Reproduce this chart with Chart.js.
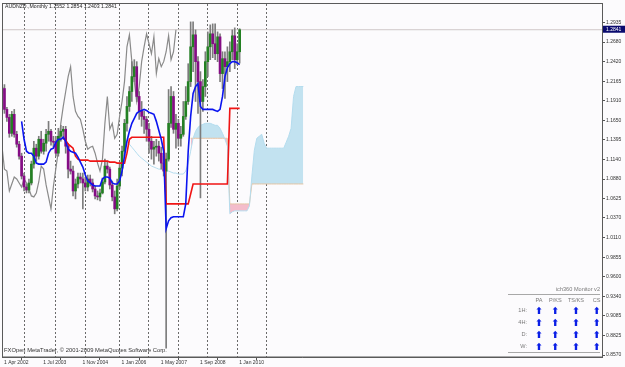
<!DOCTYPE html>
<html><head><meta charset="utf-8">
<script src="https://cdn.jsdelivr.net/npm/chart.js@4.4.1/dist/chart.umd.min.js"></script>
<style>
html,body{margin:0;padding:0;background:#fcfbfd;}
#wrap{position:relative;width:625px;height:367px;overflow:hidden;background:#fcfbfd;}
canvas{position:absolute;left:0;top:0;}
.t{position:absolute;white-space:nowrap;font-family:"Liberation Sans",Arial,sans-serif;}
.hr{position:absolute;height:0;border-top:1px solid #a8a8a8;}
</style></head><body>
<div id="wrap"><canvas id="c" width="625" height="367"></canvas></div>
<script>
// ---------- DATA ----------
const symbol = "AUDNZD.";
const period = "Monthly";
const copyright = "FXOpen MetaTrader, \u00a9 2001-2009 MetaQuotes Software Corp.";

const open = [1.2004,1.2069,1.1795,1.1690,1.1481,1.1730,1.1468,1.1338,1.1181,1.0920,
1.0776,1.0737,1.0829,1.1077,1.1286,1.1181,1.1403,1.1246,1.1351,1.1468,
1.1508,1.1377,1.1364,1.1220,1.1442,1.1508,1.1534,1.1312,1.1011,1.0985,
1.0724,1.0816,1.0907,1.0881,1.0829,1.0776,1.0881,1.0829,1.0750,1.0659,
1.0646,1.0698,1.0842,1.1051,1.1011,1.0803,1.0646,1.0489,1.0789,1.1024,
1.1246,1.1612,1.1834,1.2030,1.2226,1.2356,1.1965,1.1769,1.1703,1.1664,
1.1534,1.1377,1.1273,1.1299,1.1312,1.1220,1.1090,1.0985,1.1142,1.1612,
1.1965,1.1534,1.1612,1.1416,1.1468,1.1703,1.1899,1.2160,1.2617,1.2774,
1.2422,1.2160,1.1899,1.2095,1.2422,1.2617,1.2787,1.2657,1.2526,1.2748,
1.2265,1.2461,1.2356,1.2422,1.2552,1.2761,1.2448,1.2552];
const high = [1.2160,1.2121,1.1821,1.1730,1.1769,1.1795,1.1508,1.1377,1.1220,1.0959,
1.0816,1.0881,1.1116,1.1377,1.1338,1.1442,1.1508,1.1403,1.1534,1.1638,
1.1534,1.1442,1.1442,1.1547,1.1586,1.1573,1.1573,1.1351,1.1116,1.1051,
1.0881,1.0959,1.0959,1.0959,1.0907,1.0933,1.0933,1.0881,1.0789,1.0724,
1.0750,1.0894,1.1142,1.1116,1.1038,1.0855,1.0724,1.0881,1.1090,1.1312,
1.1664,1.1965,1.2095,1.2422,1.2448,1.2422,1.2030,1.1899,1.1769,1.1703,
1.1612,1.1442,1.1377,1.1403,1.1377,1.1299,1.1181,1.1220,1.2056,1.2095,
1.2030,1.1730,1.1664,1.1573,1.1899,1.2095,1.2395,1.2944,1.2944,1.2839,
1.2487,1.2291,1.2187,1.2552,1.2813,1.2905,1.2918,1.2918,1.2813,1.2787,
1.2552,1.2552,1.2617,1.2683,1.2839,1.2866,1.2657,1.2854];
const low = [1.1952,1.1743,1.1638,1.1429,1.1442,1.1429,1.1299,1.1142,1.0881,1.0724,
1.0698,1.0698,1.0803,1.1024,1.1116,1.1142,1.1220,1.1207,1.1246,1.1377,
1.1325,1.1299,1.1181,1.1181,1.1377,1.1403,1.1220,1.0894,1.0946,1.0659,
1.0620,1.0763,1.0829,1.0489,1.0724,1.0724,1.0789,1.0711,1.0620,1.0607,
1.0594,1.0685,1.0816,1.0959,1.0750,1.0594,1.0424,1.0463,1.0750,1.0920,
1.1181,1.1508,1.1769,1.1899,1.2160,1.1899,1.1664,1.1573,1.1481,1.1377,
1.1220,1.1142,1.1077,1.1181,1.1116,1.1011,1.0920,0.8661,1.1116,1.1560,
1.1481,1.1286,1.1312,1.1312,1.1442,1.1664,1.1860,1.2095,1.2291,1.1899,
1.1743,1.0633,1.1769,1.1965,1.2226,1.2448,1.2474,1.2448,1.2422,1.2160,
1.2069,1.1938,1.2160,1.2291,1.2448,1.2330,1.2382,1.2403];
const close = [1.2082,1.1795,1.1690,1.1481,1.1730,1.1468,1.1338,1.1181,1.0920,1.0776,
1.0737,1.0829,1.1077,1.1286,1.1181,1.1403,1.1246,1.1351,1.1468,1.1508,
1.1377,1.1364,1.1220,1.1442,1.1508,1.1534,1.1312,1.1011,1.0985,1.0724,
1.0816,1.0907,1.0881,1.0829,1.0776,1.0881,1.0829,1.0750,1.0659,1.0646,
1.0698,1.0842,1.1051,1.1011,1.0803,1.0646,1.0489,1.0789,1.1024,1.1246,
1.1612,1.1834,1.2030,1.2226,1.2356,1.1965,1.1769,1.1703,1.1664,1.1534,
1.1377,1.1273,1.1299,1.1312,1.1220,1.1090,1.0985,1.1142,1.1612,1.1965,
1.1534,1.1612,1.1416,1.1468,1.1703,1.1899,1.2160,1.2617,1.2774,1.2422,
1.2160,1.1899,1.2095,1.2422,1.2617,1.2787,1.2657,1.2526,1.2748,1.2265,
1.2461,1.2356,1.2422,1.2552,1.2761,1.2448,1.2552,1.2841];

// Tenkan-sen (blue), one value per bar
const tenkan = [null,null,null,null,null,null,null,null,1.1638,1.1403,
1.1246,1.1220,1.1220,1.1181,1.1090,1.1077,1.1077,1.1077,1.1103,1.1220,
1.1273,1.1286,1.1364,1.1403,1.1403,1.1429,1.1377,1.1273,1.1246,1.1233,
1.1220,1.1168,1.1103,1.1038,1.0933,1.0855,1.0829,1.0803,1.0789,1.0789,
1.0789,1.0881,1.0907,1.0907,1.0894,1.0829,1.0816,1.0816,1.0855,1.0985,
1.1181,1.1377,1.1508,1.1612,1.1677,1.1743,1.1769,1.1782,1.1795,1.1782,
1.1756,1.1743,1.1730,1.1638,1.1521,1.1403,1.1246,1.0228,1.0332,1.0372,
1.0385,1.0385,1.0385,1.0385,1.0385,1.0554,1.1246,1.1703,1.2004,1.2095,
1.2134,1.1834,1.1795,1.1795,1.1795,1.1795,1.1795,1.1782,1.1769,1.1795,
1.1965,1.2226,1.2343,1.2395,1.2422,1.2422,1.2409,1.2382];
// Kijun-sen (red), one value per bar
const kijun = [null,null,null,null,null,null,null,null,null,null,
null,null,null,null,null,null,null,null,null,null,
null,null,null,null,null,1.1416,1.1390,1.1338,1.1312,1.1286,
1.1181,1.1142,1.1129,1.1129,1.1129,1.1129,1.1116,1.1116,1.1116,1.1116,
1.1116,1.1116,1.1116,1.1116,1.1103,1.1103,1.1103,1.1090,1.1090,1.1090,
1.1090,1.1220,1.1403,1.1429,1.1429,1.1429,1.1429,1.1429,1.1429,1.1429,
1.1429,1.1429,1.1429,1.1429,1.1429,1.1429,1.1429,1.0554,1.0554,1.0554,
1.0554,1.0554,1.0554,1.0554,1.0554,1.0554,1.0554,1.0685,1.0816,1.0816,
1.0816,1.0816,1.0816,1.0816,1.0816,1.0816,1.0816,1.0816,1.0816,1.0816,
1.0816,1.0816,1.0816,1.1808,1.1808,1.1808,1.1808,1.1808];
// Senkou span A, plotted from bar spanAStart (already displaced forward)
const spanAStart = 51;
const spanA = [1.1377,1.1338,1.1299,1.1260,1.1220,1.1181,1.1155,1.1129,1.1103,
1.1077,1.1051,1.1038,1.1024,1.1011,1.1011,1.0998,1.0985,1.0985,1.0972,
1.0959,1.0959,1.0946,1.0946,1.0946,1.0985,1.1090,1.1246,1.1416,1.1508,
1.1560,1.1586,1.1599,1.1612,1.1612,1.1612,1.1599,1.1586,1.1586,1.1547,
1.1481,1.1403,1.1312,1.0424,1.0450,1.0463,1.0463,1.0463,1.0463,1.0463,
1.0463,1.0528,1.0920,1.1260,1.1416,1.1442,1.1468,1.1351,1.1286,1.1286,
1.1286,1.1286,1.1286,1.1286,1.1286,1.1286,1.1364,1.1442,1.1547,1.1965,
1.2095,1.2095,1.2095,1.2095];
// Senkou span B, plotted from bar spanBStart
const spanBStart = 77;
const spanB = [1.1416,1.1416,1.1416,1.1416,1.1416,1.1416,1.1416,1.1416,
1.1416,1.1416,1.1416,1.1416,1.1416,1.1416,1.1416,1.1416,
1.0554,1.0554,1.0554,1.0554,1.0554,1.0554,1.0554,1.0554,1.0554,
1.0816,1.0816,1.0816,1.0816,1.0816,1.0816,1.0816,1.0816,1.0816,1.0816,1.0816,
1.0816,1.0816,1.0816,1.0816,1.0816,1.0816,1.0816,1.0816,1.0816,1.0816,1.0816];
const chikouShift = 26;

const yTicks = [1.2935,1.2680,1.2420,1.2165,1.1910,1.1650,1.1395,1.1140,1.0880,
1.0625,1.0370,1.0110,0.9855,0.9600,0.9340,0.9085,0.8825,0.8570];
const xTickBars = [0,16,32,48,64,80,96];
const xTickLabels = ["1 Apr 2002","1 Jul 2003","1 Nov 2004","1 Jan 2006","1 May 2007","1 Sep 2008","1 Jan 2010"];
const yearBars = [9,22,34,48,60,72,84,96,108];

const monitorTitle = "ich360 Monitor v2";
const monitorCols = ["PA","P/KS","TS/KS","CS"];
const monitorRows = ["1H:","4H:","D:","W:"];
const monitorSignals = [[1,1,1,1],[1,1,1,1],[1,1,1,1],[1,1,1,1]];

// ---------- STYLE / LAYOUT ----------
const Y_MIN = 0.8544, Y_MAX = 1.3179, X_MIN = 0, X_MAX = 244.9;
const FONT = '"Liberation Sans", Arial, sans-serif';
const BULL = '#238023', BEAR = '#850c85', WICK = '#7c7c7c';

const last = close.length - 1;
const lastClose = close[last];

const wickData = low.map((l, i) => ({x: i, y: [l, high[i]]}));
const bodyData = open.map((o, i) => ({x: i, y: [o, close[i]]}));
const bodyColors = open.map((o, i) => close[i] >= o ? BULL : BEAR);
const toPts = (arr, start) => arr.map((v, i) => ({x: start + i, y: v})).filter(p => p.y !== null);
const chikouPts = close.map((c, i) => ({x: i - chikouShift, y: c})).filter(p => p.x >= 0);
const cloudAPts = toPts(spanA, spanAStart).filter(p => p.x >= spanBStart);

const framePlugin = {
  id: 'frame',
  afterDraw(chart) {
    const {ctx, chartArea: a} = chart;
    ctx.save();
    ctx.strokeStyle = '#5a5a5a';
    ctx.lineWidth = 1;
    ctx.strokeRect(a.left + 0.5, a.top - 0.5, a.right - a.left, a.bottom - a.top + 0.5);
    ctx.restore();
  }
};

new Chart(document.getElementById('c'), {
  type: 'line',
  data: {
    datasets: [
      {type:'line', data: toPts(tenkan, 0), borderColor:'#0a14f0', borderWidth:1.6, pointRadius:0, fill:false, order:1},
      {type:'line', data: toPts(kijun, 0), borderColor:'#f01414', borderWidth:1.6, pointRadius:0, fill:false, order:2},
      {type:'bar', data: bodyData, backgroundColor: bodyColors, barThickness:2, grouped:false, borderWidth:0, order:3},
      {type:'bar', data: wickData, backgroundColor: WICK, barThickness:1, grouped:false, borderWidth:0, order:4},
      {type:'line', data: chikouPts, borderColor:'#8a8a8a', borderWidth:1.2, pointRadius:0, fill:false, order:5},
      {type:'line', data: [{x:X_MIN, y:lastClose},{x:X_MAX, y:lastClose}], borderColor:'#cfc8c8', borderWidth:1, pointRadius:0, fill:false, order:6},
      {type:'line', data: toPts(spanA, spanAStart), borderColor:'#b4dcee', borderWidth:1, pointRadius:0, fill:false, order:7},
      {type:'line', data: toPts(spanB, spanBStart), borderColor:'#e4c4a4', borderWidth:1, pointRadius:0, fill:false, order:8},
      {type:'line', data: cloudAPts, borderWidth:0, borderColor:'rgba(0,0,0,0)', pointRadius:0,
        fill:{target:7, above:'#c2e2f0', below:'#f4bccb'}, order:9}
    ]
  },
  options: {
    responsive:false, animation:false, events:[], devicePixelRatio:1,
    layout:{padding:{left:2, top:2, right:0, bottom:0}},
    plugins:{legend:{display:false}, tooltip:{enabled:false}},
    scales:{
      x:{type:'linear', position:'bottom', min:X_MIN, max:X_MAX, offset:false,
        afterBuildTicks: s => { s.ticks = xTickBars.map(v => ({value:v})); },
        afterFit: s => { s.height = 10; },
        grid:{display:true, drawOnChartArea:false, drawTicks:true, tickLength:3, color:'#555'},
        border:{display:true, color:'#5a5a5a'},
        ticks:{autoSkip:false, maxRotation:0, minRotation:0, align:'start', padding:0, labelOffset:2,
          font:{size:5, family:FONT}, color:'#333',
          callback: v => { const k = xTickBars.indexOf(v); return k >= 0 ? xTickLabels[k] : ''; }}
      },
      xg:{type:'linear', position:'top', min:X_MIN, max:X_MAX, offset:false,
        afterBuildTicks: s => { s.ticks = yearBars.map(v => ({value:v})); },
        afterFit: s => { s.height = 0; },
        ticks:{display:false},
        grid:{display:true, drawOnChartArea:true, drawTicks:false, color:'#6a6a6a', lineWidth:1},
        border:{display:false, dash:[2,2]}
      },
      y:{type:'linear', position:'right', min:Y_MIN, max:Y_MAX,
        afterBuildTicks: s => { s.ticks = yTicks.concat([lastClose]).map(v => ({value:v})); },
        afterFit: s => { s.width = 23; },
        grid:{display:true, drawOnChartArea:false, drawTicks:true, tickLength:3, color:'#555'},
        border:{display:true, color:'#5a5a5a'},
        ticks:{autoSkip:false, padding:1, font:{size:5, family:FONT},
          color: c => (c.tick && c.tick.value === lastClose) ? '#ffffff' : '#333',
          showLabelBackdrop: c => !!(c.tick && c.tick.value === lastClose),
          backdropColor: '#0a0a6e',
          backdropPadding: {left:3, right:4, top:1, bottom:0},
          callback: v => v.toFixed(4)}
      }
    }
  },
  plugins:[framePlugin]
});

// ---------- TEXT OVERLAYS ----------
const wrap = document.getElementById('wrap');
function addText(txt, x, y, size, color, align, extra) {
  const d = document.createElement('div');
  d.className = 't';
  d.textContent = txt;
  d.style.fontSize = size + 'px';
  d.style.lineHeight = size + 'px';
  d.style.top = (y - size / 2) + 'px';
  d.style.color = color;
  if (align === 'right') d.style.right = (625 - x) + 'px';
  else if (align === 'center') { d.style.left = x + 'px'; d.style.transform = 'translateX(-50%)'; }
  else d.style.left = x + 'px';
  if (extra) Object.assign(d.style, extra);
  wrap.appendChild(d);
  return d;
}
function addLine(x1, x2, y) {
  const d = document.createElement('div');
  d.className = 'hr';
  d.style.left = x1 + 'px'; d.style.width = (x2 - x1) + 'px'; d.style.top = y + 'px';
  wrap.appendChild(d);
}
const f4 = v => v.toFixed(4);
addText(symbol + ',' + period + '  ' + f4(open[last]) + ' ' + f4(high[last]) + ' ' + f4(low[last]) + ' ' + f4(close[last]), 5, 7, 5.2, '#1e1e1e', 'left');
addText(copyright, 4, 351, 5.8, '#333', 'left');

addText(monitorTitle, 600, 290, 5.6, '#7a7a7a', 'right');
addLine(508, 600, 294);
const colX = [539, 555.3, 576, 596.7];
const rowY = [311, 322.7, 334.3, 346.7];
monitorCols.forEach((c, j) => addText(c, colX[j], 300.7, 5.6, '#7a7a7a', 'center'));
monitorRows.forEach((r, i) => {
  addText(r, 527, rowY[i], 5.6, '#7a7a7a', 'right');
  monitorSignals[i].forEach((s, j) => addText(s > 0 ? '\u2B06' : '\u2B07', colX[j], rowY[i], 9.5, '#0a1ee6', 'center', {fontFamily:'"DejaVu Sans", sans-serif', fontWeight:'bold'}));
});
addLine(508, 600, 352);
</script>
</body></html>
